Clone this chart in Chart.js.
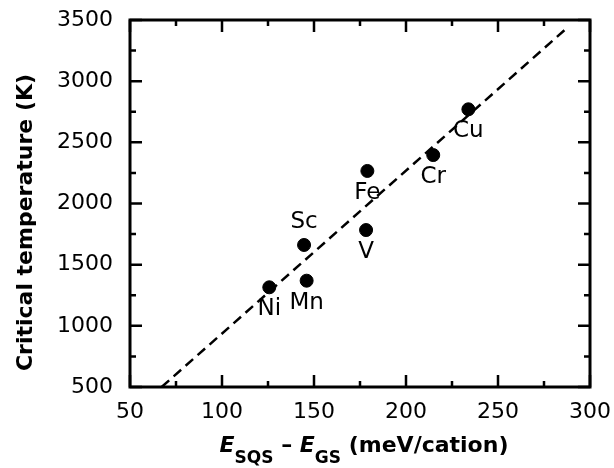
<!DOCTYPE html>
<html><head><meta charset="utf-8">
<script src="https://cdn.jsdelivr.net/npm/chart.js@4/dist/chart.umd.min.js"></script>
<style>html,body{margin:0;padding:0;background:#fff}#wrap{width:614px;height:468px}</style>
</head><body><div id="wrap"><canvas id="c" width="614" height="468"></canvas></div>
<script>
const elements = ['Ni', 'Mn', 'Sc', 'V', 'Fe', 'Cr', 'Cu'];
const energyDiff = [125.7, 146.0, 144.6, 178.3, 179.0, 214.8, 233.9];
const criticalTemp = [1315, 1369, 1661, 1783, 2266, 2396, 2770];
const fitX = [67.2, 287.3];
const fitY = [500, 3432];
const xTickValues = [50, 100, 150, 200, 250, 300];
const yTickValues = [500, 1000, 1500, 2000, 2500, 3000, 3500];
const labelsAbove = ['Sc'];

const FONT = "'DejaVu Sans', sans-serif";

const decor = {
  id: 'decor',
  afterDraw(chart) {
    const ctx = chart.ctx;
    const a = chart.chartArea;
    const xs = chart.scales.x, ys = chart.scales.y;
    ctx.save();
    ctx.strokeStyle = '#000';
    ctx.lineWidth = 3;
    ctx.strokeRect(a.left, a.top, a.right - a.left, a.bottom - a.top);
    ctx.lineWidth = 2.5;
    const maj = 12, min = 6;
    const xMinor = [];
    for (let i = 0; i < xTickValues.length - 1; i++) xMinor.push((xTickValues[i] + xTickValues[i + 1]) / 2);
    const yMinor = [];
    for (let i = 0; i < yTickValues.length - 1; i++) yMinor.push((yTickValues[i] + yTickValues[i + 1]) / 2);
    ctx.beginPath();
    xTickValues.forEach(v => { const p = xs.getPixelForValue(v);
      ctx.moveTo(p, a.bottom); ctx.lineTo(p, a.bottom - maj);
      ctx.moveTo(p, a.top); ctx.lineTo(p, a.top + maj); });
    xMinor.forEach(v => { const p = xs.getPixelForValue(v);
      ctx.moveTo(p, a.bottom); ctx.lineTo(p, a.bottom - min);
      ctx.moveTo(p, a.top); ctx.lineTo(p, a.top + min); });
    yTickValues.forEach(v => { const p = ys.getPixelForValue(v);
      ctx.moveTo(a.left, p); ctx.lineTo(a.left + maj, p);
      ctx.moveTo(a.right, p); ctx.lineTo(a.right - maj, p); });
    yMinor.forEach(v => { const p = ys.getPixelForValue(v);
      ctx.moveTo(a.left, p); ctx.lineTo(a.left + min, p);
      ctx.moveTo(a.right, p); ctx.lineTo(a.right - min, p); });
    ctx.stroke();

    ctx.fillStyle = '#000';
    ctx.font = '23px ' + FONT;
    ctx.textAlign = 'center';
    ctx.textBaseline = 'middle';
    elements.forEach((name, i) => {
      const px = xs.getPixelForValue(energyDiff[i]);
      const py = ys.getPixelForValue(criticalTemp[i]);
      const dy = labelsAbove.includes(name) ? -23 : 22;
      ctx.fillText(name, px, py + dy);
    });

    ctx.save();
    ctx.translate(32, (a.top + a.bottom) / 2 + 19);
    ctx.rotate(-Math.PI / 2);
    ctx.font = 'bold 22px ' + FONT;
    ctx.textAlign = 'center';
    ctx.textBaseline = 'alphabetic';
    ctx.fillText('Critical temperature (K)', 0, 0);
    ctx.restore();

    const parts = [
      {t: 'E', f: 'italic bold 22px ' + FONT, dy: 0},
      {t: 'SQS', f: 'bold 17px ' + FONT, dy: 11},
      {t: ' \u2013 ', f: 'bold 22px ' + FONT, dy: 0},
      {t: 'E', f: 'italic bold 22px ' + FONT, dy: 0},
      {t: 'GS', f: 'bold 17px ' + FONT, dy: 11},
      {t: ' (meV/cation)', f: 'bold 22px ' + FONT, dy: 0}
    ];
    let total = 0;
    parts.forEach(p => { ctx.font = p.f; p.w = ctx.measureText(p.t).width; total += p.w; });
    let x = (a.left + a.right) / 2 + 4 - total / 2;
    const base = 452;
    ctx.textAlign = 'left';
    ctx.textBaseline = 'alphabetic';
    parts.forEach(p => { ctx.font = p.f; ctx.fillText(p.t, x, base + p.dy); x += p.w; });
    ctx.restore();
  }
};

new Chart(document.getElementById('c'), {
  type: 'scatter',
  data: {
    datasets: [
      {
        data: energyDiff.map((v, i) => ({x: v, y: criticalTemp[i]})),
        backgroundColor: '#000', borderColor: '#000',
        pointRadius: 6.5, pointHoverRadius: 6.5, order: 1
      },
      {
        type: 'line',
        data: fitX.map((v, i) => ({x: v, y: fitY[i]})),
        borderColor: '#000', borderWidth: 2.5, borderDash: [10, 6],
        pointRadius: 0, fill: false, showLine: true, order: 2
      }
    ]
  },
  options: {
    responsive: false, animation: false, devicePixelRatio: 1,
    layout: {padding: {top: 20, right: 24, left: 0, bottom: 0}},
    plugins: {legend: {display: false}, tooltip: {enabled: false}},
    scales: {
      x: {
        type: 'linear', min: 50, max: 300,
        afterBuildTicks: s => { s.ticks = xTickValues.map(v => ({value: v})); },
        ticks: {color: '#000', font: {family: FONT, size: 22}, padding: 12, callback: v => String(v)},
        grid: {display: false, drawTicks: false}, border: {display: false},
        afterFit: s => { s.height = 81; s.paddingLeft = 0; s.paddingRight = 0; }
      },
      y: {
        type: 'linear', min: 500, max: 3500,
        afterBuildTicks: s => { s.ticks = yTickValues.map(v => ({value: v})); },
        ticks: {color: '#000', font: {family: FONT, size: 22}, padding: 17, callback: v => String(v)},
        grid: {display: false, drawTicks: false}, border: {display: false},
        afterFit: s => { s.width = 130; s.paddingTop = 0; s.paddingBottom = 0; }
      }
    }
  },
  plugins: [decor]
});
</script>
</body></html>
